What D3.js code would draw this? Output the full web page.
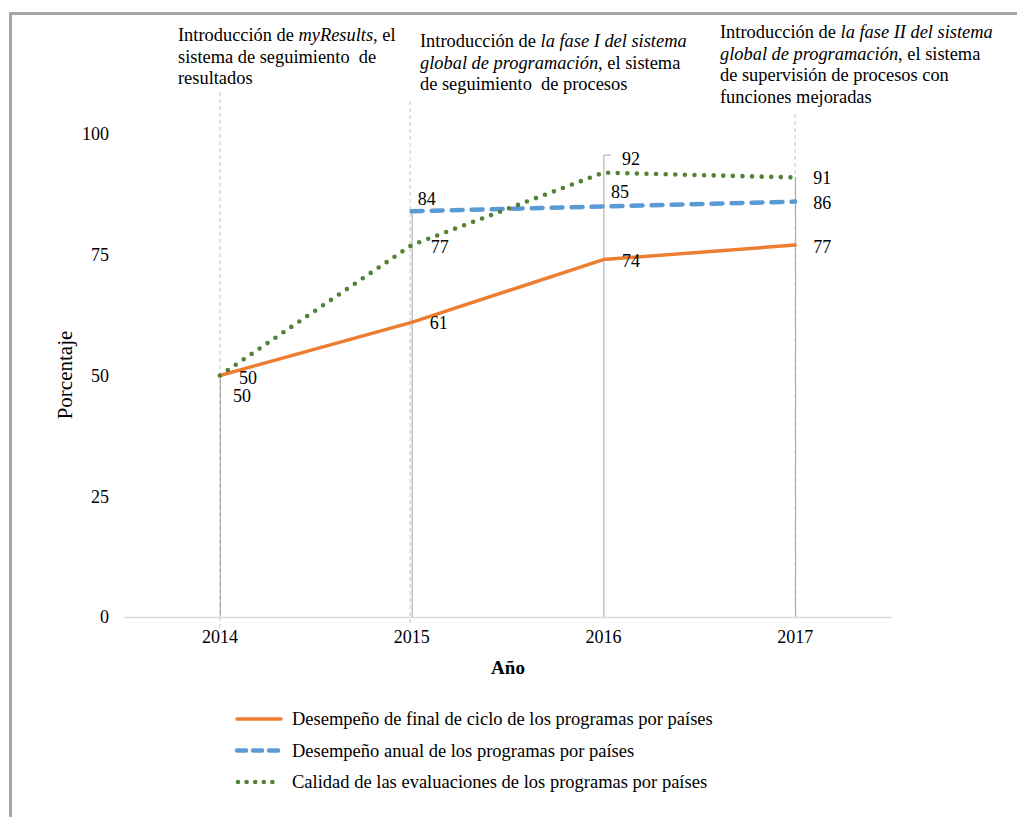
<!DOCTYPE html>
<html>
<head>
<meta charset="utf-8">
<script src="https://cdn.jsdelivr.net/npm/d3@7"></script>
<style>
  html, body { margin: 0; padding: 0; background: #fff; }
  svg { display: block; font-family: "Liberation Serif", "Times New Roman", serif; }
  text { white-space: pre; }
</style>
</head>
<body>
<svg id="chart" width="1017" height="817"></svg>
<script>
// Data
const years = ["2014", "2015", "2016", "2017"];
const finalCycle = [50, 61, 74, 77];          // Desempeño de final de ciclo
const annual = [null, 84, 85, 86];            // Desempeño anual
const evalQuality = [50, 77, 92, 91];         // Calidad de las evaluaciones
const yTicks = [0, 25, 50, 75, 100];
const seriesNames = [
  "Desempeño de final de ciclo de los programas por países",
  "Desempeño anual de los programas por países",
  "Calidad de las evaluaciones de los programas por países"
];

// Milestone notes (array of lines; each line is a list of [text, italic] runs)
const notes = [
  { year: "2014", lines: [
      [["Introducción de ", false], ["myResults", true], [", el", false]],
      [["sistema de seguimiento  de", false]],
      [["resultados", false]]
  ]},
  { year: "2015", lines: [
      [["Introducción de ", false], ["la fase I del sistema", true]],
      [["global de programación", true], [", el sistema", false]],
      [["de seguimiento  de procesos", false]]
  ]},
  { year: "2017", lines: [
      [["Introducción de ", false], ["la fase II del sistema", true]],
      [["global de programación", true], [", el sistema", false]],
      [["de supervisión de procesos con", false]],
      [["funciones mejoradas", false]]
  ]}
];

// Layout
const svg = d3.select("#chart");
const x = d3.scaleBand().domain(years).range([124, 891]);
const cx = d => x(d) + x.bandwidth() / 2;
const y = d3.scaleLinear().domain([0, 100]).range([617, 134]);

const noteLayout = [
  { left: 178, firstBaseline: 41, lineTop: 92, lineBottom: 629, shift: 0 },
  { left: 420, firstBaseline: 47, lineTop: 101, lineBottom: 626, shift: -1.5 },
  { left: 720, firstBaseline: 38, lineTop: 114, lineBottom: 617, shift: 0 }
];
const lineGap = 21.7;
const noteSize = 18.4;

// Frame
svg.append("line").attr("x1", 9).attr("x2", 1017).attr("y1", 13.5).attr("y2", 13.5)
  .attr("stroke", "#a6a6a6").attr("stroke-width", 3);
svg.append("line").attr("x1", 10.5).attr("x2", 10.5).attr("y1", 12).attr("y2", 817)
  .attr("stroke", "#a6a6a6").attr("stroke-width", 3);

// Milestone dashed guides
notes.forEach((n, i) => {
  const L = noteLayout[i];
  svg.append("line")
    .attr("x1", cx(n.year) + L.shift).attr("x2", cx(n.year) + L.shift)
    .attr("y1", L.lineTop).attr("y2", L.lineBottom)
    .attr("stroke", "#c4c4c4").attr("stroke-width", 1)
    .attr("stroke-dasharray", "4,3");
});

// Drop lines from the highest value of each year to the axis
years.forEach((yr, i) => {
  const top = d3.max([finalCycle[i], annual[i], evalQuality[i]].filter(v => v != null));
  svg.append("line")
    .attr("x1", cx(yr) + 0.5).attr("x2", cx(yr) + 0.5)
    .attr("y1", y(top)).attr("y2", y(0))
    .attr("stroke", "#a6a6a6").attr("stroke-width", 1);
});

// X axis
const xAxis = svg.append("g").attr("transform", `translate(0,${y(0)})`)
  .call(d3.axisBottom(x).tickSize(0).tickSizeOuter(0).tickPadding(13));
xAxis.select(".domain").attr("stroke", "#d9d9d9").attr("stroke-width", 1.3);
xAxis.selectAll("text").attr("font-family", "Liberation Serif").attr("font-size", 18).attr("fill", "#000");

// Y axis
const yAxis = svg.append("g").attr("transform", `translate(124,0)`)
  .call(d3.axisLeft(y).tickValues(yTicks).tickSize(0).tickPadding(15));
yAxis.select(".domain").remove();
yAxis.selectAll("text").attr("font-family", "Liberation Serif").attr("font-size", 18).attr("fill", "#000");

// Axis titles
svg.append("text").attr("x", 508).attr("y", 674).attr("text-anchor", "middle")
  .attr("font-size", 19).attr("font-weight", "bold").text("Año");
svg.append("text").attr("transform", "translate(72,375) rotate(-90)").attr("text-anchor", "middle")
  .attr("font-size", 21).text("Porcentaje");

// Series
const styles = [
  { color: "#ED7D31", width: 3.5, dash: null, cap: "round" },
  { color: "#5B9BD5", width: 4.5, dash: "11,9", cap: "round" },
  { color: "#548235", width: 4.6, dash: "0,9.6", cap: "round" }
];
const allSeries = [finalCycle, annual, evalQuality];

const line = d3.line()
  .defined(d => d.v != null)
  .x(d => cx(d.year))
  .y(d => y(d.v));

allSeries.forEach((vals, s) => {
  const pts = years.map((yr, i) => ({ year: yr, v: vals[i] }));
  const st = styles[s];
  svg.append("path").datum(pts)
    .attr("d", line)
    .attr("fill", "none")
    .attr("stroke", st.color)
    .attr("stroke-width", st.width)
    .attr("stroke-linecap", st.cap)
    .attr("stroke-linejoin", "round")
    .attr("stroke-dasharray", st.dash);
});

// Data labels: offsets from each point [dx, dy] per series
const labelOffsets = [
  [[19, 8], [18, 7], [18.5, 7.5], [18, 8]],
  [null, [6, -6], [7.5, -8.5], [18, 7.5]],
  [[13, 26], [19, 8], [18.5, -7.5], [18, 6.5]]
];
allSeries.forEach((vals, s) => {
  vals.forEach((v, i) => {
    if (v == null) return;
    const [dx, dy] = labelOffsets[s][i];
    svg.append("text")
      .attr("x", cx(years[i]) + dx).attr("y", y(v) + dy)
      .attr("font-size", 18).attr("fill", "#000")
      .text(v);
  });
});

// Leader line for the 2016 evaluation-quality label
{
  const px = cx("2016") + 0.5;
  const py = y(evalQuality[2]);
  svg.append("path")
    .attr("d", `M${px + 7},${py - 17.5}H${px}V${py}`)
    .attr("fill", "none").attr("stroke", "#a6a6a6").attr("stroke-width", 1);
}

// Milestone notes
notes.forEach((n, i) => {
  const L = noteLayout[i];
  n.lines.forEach((runs, li) => {
    const t = svg.append("text")
      .attr("x", L.left).attr("y", L.firstBaseline + li * lineGap)
      .attr("font-size", noteSize).attr("fill", "#000");
    runs.forEach(([txt, it]) => {
      t.append("tspan").attr("font-style", it ? "italic" : "normal").text(txt);
    });
  });
});

// Legend
const legend = svg.append("g");
seriesNames.forEach((name, s) => {
  const ly = 719 + s * 31.5;
  const st = styles[s];
  legend.append("line")
    .attr("x1", s === 2 ? 238 : 237).attr("x2", 281).attr("y1", ly).attr("y2", ly)
    .attr("stroke", st.color).attr("stroke-width", st.width)
    .attr("stroke-linecap", st.cap)
    .attr("stroke-dasharray", s === 1 ? "9,7" : (s === 2 ? "0,8.6" : null));
  legend.append("text").attr("x", 292).attr("y", ly + 6)
    .attr("font-size", 18.5).attr("fill", "#000").text(name);
});
</script>
</body>
</html>
